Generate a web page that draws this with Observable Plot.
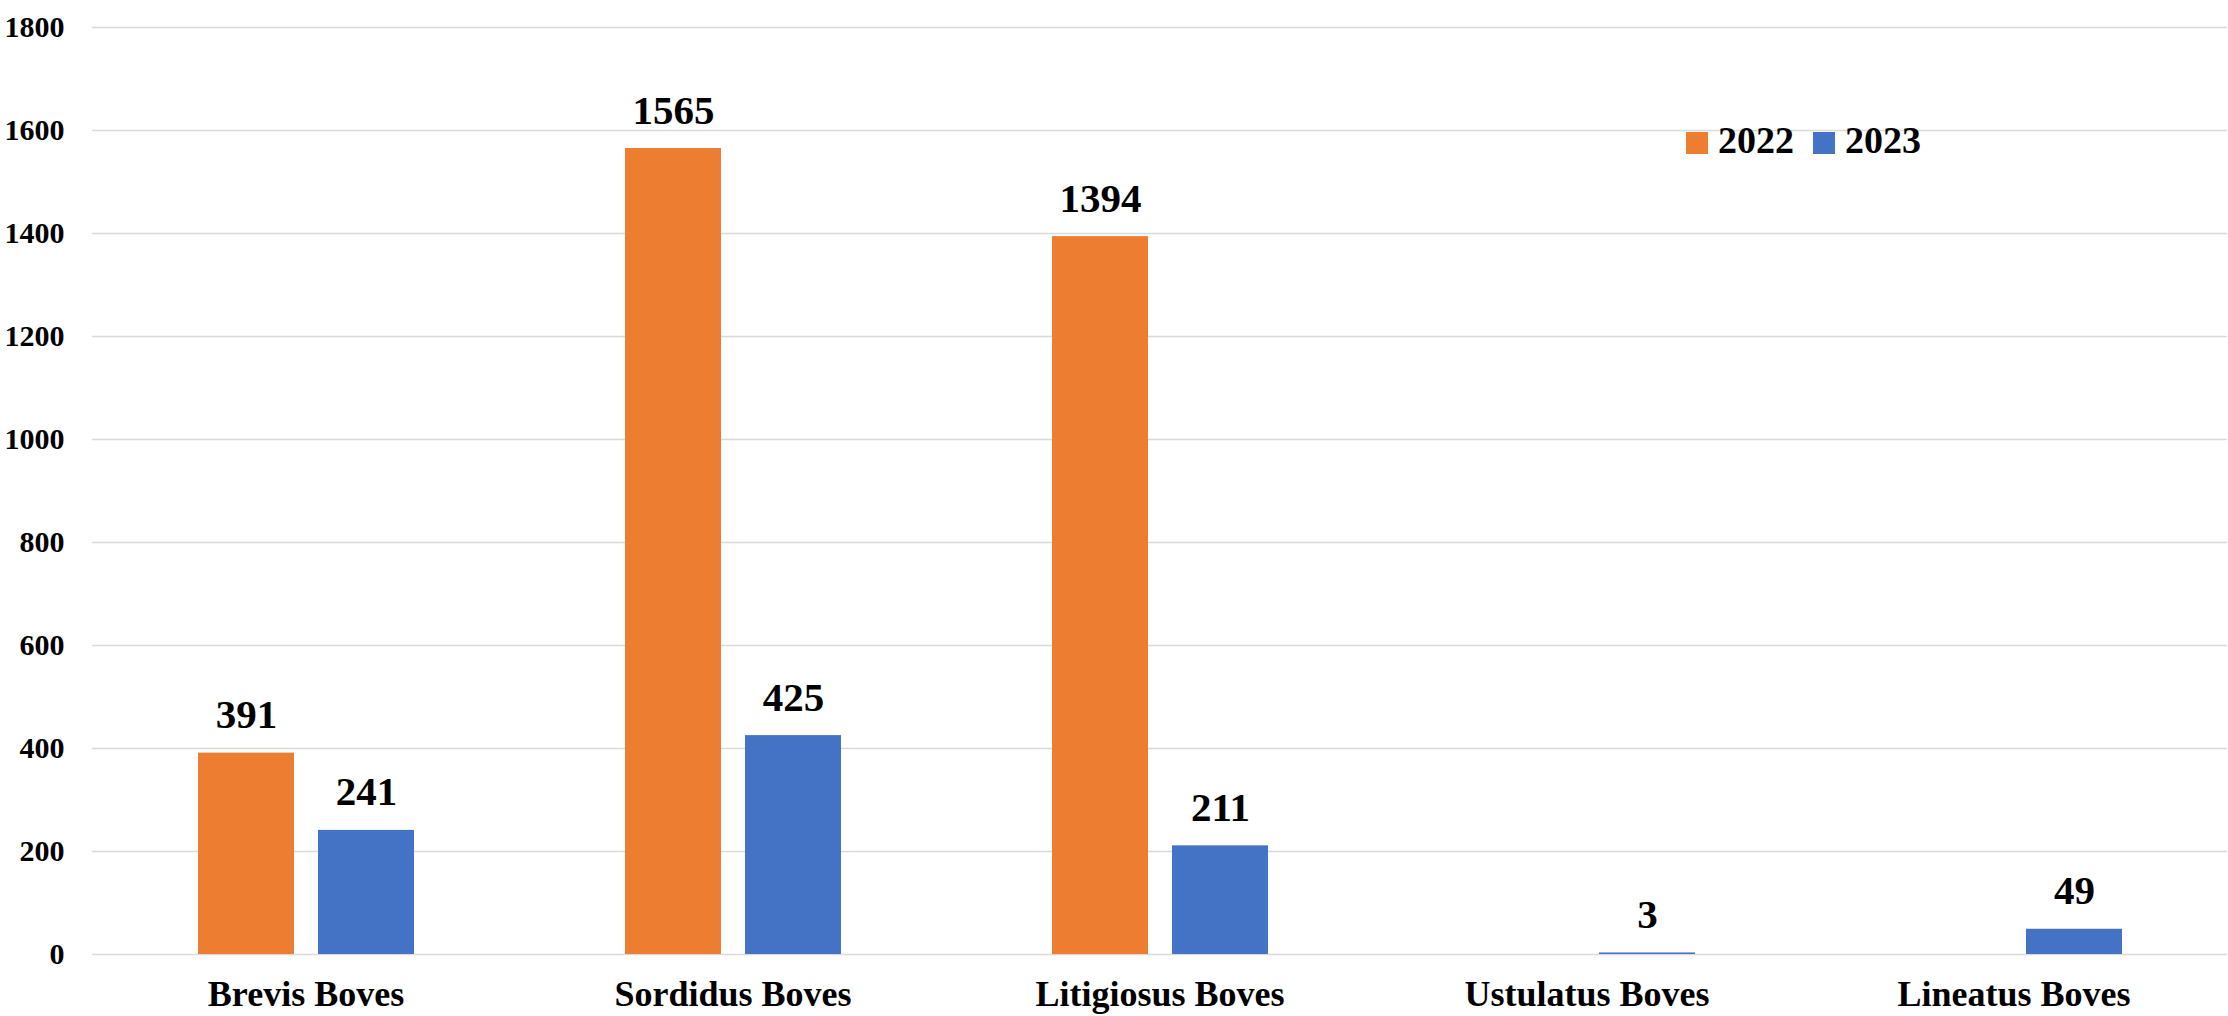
<!DOCTYPE html>
<html>
<head>
<meta charset="utf-8">
<script src="https://cdn.jsdelivr.net/npm/d3@7"></script>
<script src="https://cdn.jsdelivr.net/npm/@observablehq/plot@0.6"></script>
<style>
  html, body { margin: 0; padding: 0; background: #fff; }
  #chart { position: relative; width: 2228px; height: 1016px; font-family: "Liberation Serif", serif; font-weight: bold; color: #000; }
  #legend { position: absolute; left: 1686px; top: 121px; display: flex; align-items: center; font-size: 38px; line-height: 38px; }
  #legend .item { display: flex; align-items: center; }
  #legend .swatch { width: 22px; height: 22px; margin-right: 10px; transform: translateY(3px); }
  #legend .item + .item { margin-left: 19px; }
</style>
</head>
<body>
<div id="chart"><div id="legend"></div></div>
<script>
// Categories, series and tick values
const categories = ["Brevis Boves", "Sordidus Boves", "Litigiosus Boves", "Ustulatus Boves", "Lineatus Boves"];
const years = ["2022", "2023"];
const values2022 = [391, 1565, 1394, null, null];
const values2023 = [241, 425, 211, 3, 49];
const yTicks = [0, 200, 400, 600, 800, 1000, 1200, 1400, 1600, 1800];
const colors = ["#ED7D31", "#4472C4"];

// Long-format rows for the grouped bars (missing values are skipped)
const series = [values2022, values2023];
const rows = [];
categories.forEach((category, i) => {
  series.forEach((vals, j) => {
    if (vals[i] != null) rows.push({category, year: years[j], value: vals[i]});
  });
});

const serif = '"Liberation Serif", serif';

const chart = Plot.plot({
  width: 2228,
  height: 1016,
  marginLeft: 90,
  marginRight: 0,
  marginTop: 27,
  marginBottom: 62,
  style: {fontFamily: serif, fontWeight: "bold", color: "#000", background: "#fff"},
  fx: {domain: categories, padding: 0, label: null},
  x: {domain: years, paddingInner: 0.2, paddingOuter: 0.876, axis: null},
  y: {domain: [0, 1800], label: null},
  color: {domain: years, range: colors},
  marks: [
    Plot.gridY(yTicks, {stroke: "#d9d9d9", strokeOpacity: 1, strokeWidth: 1.5}),
    Plot.barY(rows, {fx: "category", x: "year", y: "value", fill: "year"}),
    Plot.text(rows, {
      fx: "category", x: "year", y: "value",
      text: d => String(d.value),
      lineAnchor: "bottom", dy: -25,
      fontSize: 41, fontWeight: "bold", fontFamily: serif, fill: "#000"
    }),
    Plot.axisY(yTicks, {tickSize: 0, tickPadding: 28, fontSize: 30, tickFormat: d3.format("d"), label: null}),
    Plot.axisFx({anchor: "bottom", tickSize: 0, tickPadding: 26, fontSize: 36, label: null})
  ]
});

const host = document.getElementById("chart");
host.insertBefore(chart, host.firstChild);

// Legend drawn from the same year/colour arrays
const legend = d3.select("#legend");
years.forEach((y, i) => {
  const item = legend.append("div").attr("class", "item");
  item.append("div").attr("class", "swatch").style("background", colors[i]);
  item.append("span").text(y);
});
</script>
</body>
</html>
